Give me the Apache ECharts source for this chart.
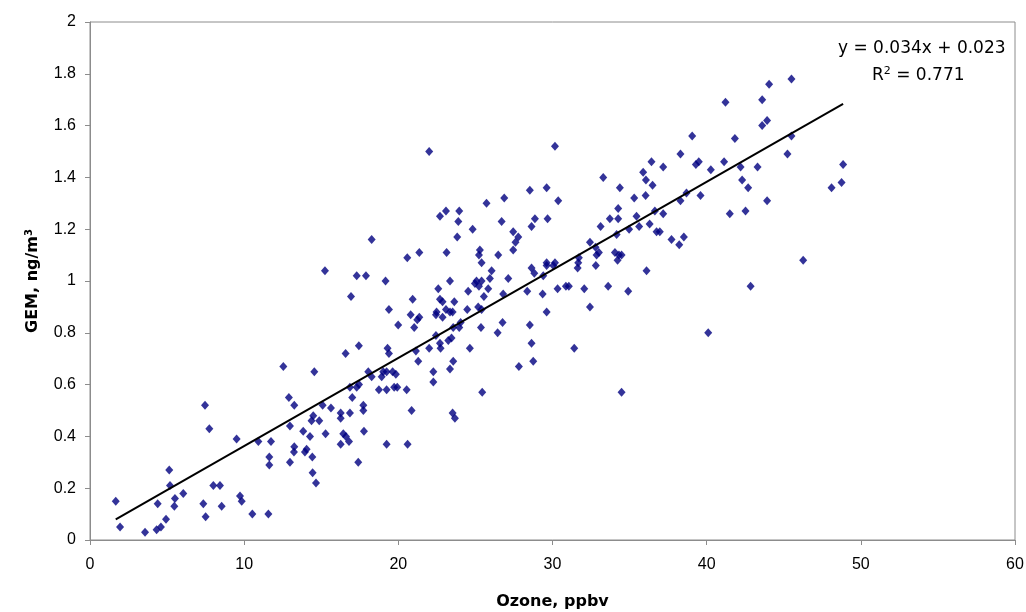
<!DOCTYPE html>
<html>
<head>
<meta charset="utf-8">
<script src="https://cdn.jsdelivr.net/npm/echarts@6/dist/echarts.min.js"></script>
<style>
  html, body { margin: 0; padding: 0; background: #fff; width: 100%; height: 100%; overflow: hidden; }
  #chart { width: 1026px; height: 612px; }
</style>
</head>
<body>
<div id="chart"></div>
<script>
// Ozone (ppbv) and GEM (ng/m3) paired observations
const ozone = [
  1.67, 1.95, 3.57, 4.32, 4.6, 4.93, 4.39, 5.14, 5.19, 5.51, 5.47, 6.05, 7.46, 7.74, 7.35, 7.5,
  8.0, 8.43, 8.54, 9.51, 9.73, 9.84, 10.53, 10.92, 11.74, 11.63, 11.63, 11.57, 12.9, 12.97, 12.97,
  13.25, 13.25, 13.23, 13.83, 14.27, 13.94, 14.05, 14.42, 14.44, 14.66, 14.48, 14.37, 14.87, 15.09,
  15.28, 15.63, 16.26, 16.26, 16.86, 16.43, 16.6, 16.8, 16.26, 17.4, 17.77, 17.01, 17.73, 17.73,
  16.86, 17.3, 17.45, 18.74, 19.24, 19.73, 19.93, 20.54, 20.86, 19.24, 20.6, 22.27, 23.52, 23.67,
  25.44, 34.48, 12.54, 18.27, 15.24, 17.3, 17.9, 19.17, 16.93, 19.39, 19.99, 20.58, 21.36, 23.13,
  23.82, 24.82, 20.93, 20.8, 21.36, 21.23, 21.03, 22.59, 23.35, 22.7, 22.87, 23.63, 24.53, 24.97,
  22.48, 22.44, 22.87, 23.09, 23.35, 23.52, 24.47, 23.56, 23.95, 24.04, 22.44, 23.45, 23.24, 22.7,
  22.74, 22.0, 21.14, 21.29, 23.56, 23.35, 24.64, 22.27, 19.3, 19.39, 17.44, 16.58, 14.55, 18.05,
  18.27, 19.02, 19.24, 19.63, 19.84, 18.92, 27.45, 27.78, 27.6, 27.45, 28.64, 25.29, 25.23, 26.48,
  25.4, 26.05, 25.07, 25.23, 25.4, 25.94, 25.83, 27.13, 25.55, 26.8, 25.18, 25.4, 25.36, 26.76,
  26.44, 28.53, 28.64, 28.75, 27.82, 28.64, 28.82, 29.62, 29.62, 30.16, 30.05, 29.4, 28.36, 29.36,
  30.33, 30.87, 31.06, 29.62, 31.41, 32.06, 32.43, 33.61, 34.91, 32.43, 32.79, 33.01, 32.86, 32.81,
  31.71, 31.67, 31.63, 34.16, 34.05, 34.31, 34.48, 34.22, 36.1, 33.12, 34.97, 35.62, 36.75, 36.96,
  37.72, 38.22, 38.52, 46.26, 42.85, 40.1, 22.0, 22.7, 23.09, 23.95, 23.89, 30.16, 25.72, 26.87,
  26.7, 28.53, 29.62, 30.37, 28.86, 29.68, 33.29, 34.37, 35.3, 36.04, 36.42, 35.88, 36.06, 36.49,
  34.26, 33.72, 34.26, 35.45, 36.64, 36.3, 45.5, 44.05, 41.22, 43.6, 43.92, 43.6, 39.06, 41.83,
  45.5, 38.3, 45.24, 37.18, 39.3, 39.49, 40.27, 41.13, 42.2, 43.3, 48.85, 42.3, 42.69, 48.75, 48.1,
  38.69, 38.3, 39.6, 43.92, 37.18, 41.5, 42.52
];
const gem = [
  0.15, 0.05, 0.03, 0.04, 0.05, 0.08, 0.14, 0.27, 0.21, 0.16, 0.13, 0.18, 0.52, 0.43, 0.14, 0.09,
  0.21, 0.21, 0.13, 0.39, 0.17, 0.15, 0.10, 0.38, 0.38, 0.32, 0.29, 0.10, 0.55, 0.44, 0.30,
  0.52, 0.36, 0.34, 0.42, 0.40, 0.34, 0.35, 0.32, 0.26, 0.22, 0.48, 0.46, 0.46, 0.52,
  0.41, 0.51, 0.49, 0.47, 0.49, 0.41, 0.40, 0.38, 0.37, 0.30, 0.42, 0.55, 0.52, 0.50,
  0.59, 0.59, 0.60, 0.58, 0.58, 0.59, 0.59, 0.58, 0.50, 0.37, 0.37, 0.61, 0.49, 0.47,
  0.57, 0.57, 0.67, 1.16, 1.04, 1.02, 1.02, 1.00, 0.94, 0.89, 0.83, 1.09, 1.11, 1.11,
  1.17, 1.20, 0.93, 0.87, 0.86, 0.85, 0.82, 0.97, 1.00, 0.93, 0.92, 0.92, 0.96, 0.99,
  0.88, 0.87, 0.86, 0.89, 0.88, 0.88, 0.89, 0.82, 0.82, 0.84, 0.79, 0.78, 0.77, 0.76,
  0.74, 0.74, 0.73, 0.69, 0.69, 0.66, 0.74, 0.65, 0.74, 0.72, 0.75, 0.72, 0.65, 0.65,
  0.63, 0.65, 0.65, 0.65, 0.64, 0.63, 1.19, 1.17, 1.15, 1.12, 1.21, 1.12, 1.10, 1.10,
  1.07, 1.04, 1.00, 0.98, 1.00, 1.01, 0.97, 1.01, 0.94, 0.95, 0.90, 0.89, 0.82, 0.84,
  0.80, 0.83, 0.76, 0.69, 0.67, 1.05, 1.03, 1.07, 1.06, 1.07, 1.06, 1.02, 0.96, 0.95,
  0.97, 0.98, 0.98, 0.88, 0.74, 0.97, 0.90, 0.98, 0.96, 1.15, 1.13, 1.11, 1.10, 1.06,
  1.09, 1.07, 1.05, 1.18, 1.11, 1.10, 1.10, 1.08, 1.04, 1.21, 1.20, 1.21, 1.19, 1.19,
  1.16, 1.14, 1.17, 1.08, 0.98, 0.80, 1.50, 1.25, 1.27, 1.27, 1.23, 1.52, 1.30, 1.32,
  1.23, 1.35, 1.36, 1.31, 1.24, 1.24, 1.40, 1.36, 1.32, 1.33, 1.46, 1.42, 1.39, 1.37,
  1.28, 1.24, 1.24, 1.25, 1.27, 1.22, 1.78, 1.76, 1.69, 1.70, 1.62, 1.60, 1.56, 1.55,
  1.56, 1.49, 1.49, 1.44, 1.45, 1.46, 1.43, 1.46, 1.44, 1.44, 1.45, 1.39, 1.36, 1.38, 1.36,
  1.34, 1.31, 1.33, 1.31, 1.26, 1.26, 1.27
];

// Linear fit shown in the annotation
const slope = 0.034;
const intercept = 0.023;
const r2 = 0.771;

const xTicks = { min: 0, max: 60, interval: 10 };
const yTicks = { min: 0, max: 2, interval: 0.2 };

const points = ozone.map((x, i) => [x, gem[i]]);
const xMin = Math.min(...ozone);
const xMax = Math.max(...ozone);
const fitLine = [xMin, xMax].map(x => [x, slope * x + intercept]);

const FONT = '"Liberation Sans", Arial, sans-serif';
const WIDE = '"DejaVu Sans", sans-serif';
const axisGray = '#8c8c8c';

const chart = echarts.init(document.getElementById('chart'), null, { renderer: 'canvas' });
chart.setOption({
  animation: false,
  backgroundColor: '#ffffff',
  grid: {
    left: 90, right: 11, top: 22, bottom: 72,
    containLabel: false,
    outerBoundsMode: 'none',
    show: true, borderColor: axisGray, borderWidth: 1, backgroundColor: 'transparent'
  },
  xAxis: {
    type: 'value',
    min: xTicks.min, max: xTicks.max, interval: xTicks.interval,
    name: 'Ozone, ppbv',
    nameLocation: 'middle',
    nameGap: 54,
    nameTextStyle: { fontFamily: WIDE, fontSize: 16, fontWeight: 'bold', color: '#000' },
    axisLine: { show: true, lineStyle: { color: axisGray, width: 1 } },
    axisTick: { show: true, inside: false, length: 5, lineStyle: { color: axisGray } },
    axisLabel: { fontFamily: FONT, fontSize: 16, color: '#000', margin: 17 },
    splitLine: { show: false }
  },
  yAxis: {
    type: 'value',
    min: yTicks.min, max: yTicks.max, interval: yTicks.interval,
    name: 'GEM, ng/m{sup|3}',
    nameLocation: 'middle',
    nameGap: 48,
    nameRotate: 90,
    nameTextStyle: {
      fontFamily: WIDE, fontSize: 16, fontWeight: 'bold', color: '#000',
      rich: { sup: { fontFamily: WIDE, fontSize: 10, fontWeight: 'bold', verticalAlign: 'top', padding: [0, 0, 8, 0] } }
    },
    axisLine: { show: true, lineStyle: { color: axisGray, width: 1 } },
    axisTick: { show: true, inside: false, length: 5, lineStyle: { color: axisGray } },
    axisLabel: { fontFamily: FONT, fontSize: 16, color: '#000', margin: 14 },
    splitLine: { show: false }
  },
  series: [
    {
      type: 'scatter',
      data: points,
      symbol: 'diamond',
      symbolSize: [8, 9],
      itemStyle: { color: '#000080' },
      z: 3
    },
    {
      type: 'line',
      data: fitLine,
      symbol: 'none',
      lineStyle: { color: '#000', width: 2 },
      z: 4
    }
  ],
  graphic: [
    {
      type: 'text',
      left: 838, top: 40,
      style: {
        text: 'y = ' + slope.toFixed(3) + 'x + ' + intercept.toFixed(3),
        font: '17px ' + WIDE, fill: '#000'
      }
    },
    {
      type: 'text',
      left: 872, top: 66,
      style: {
        text: 'R{sup|2} = ' + r2.toFixed(3),
        font: '17px ' + WIDE, fill: '#000',
        rich: { sup: { fontSize: 11, fontFamily: WIDE, padding: [0, 0, 9, 0] } }
      }
    }
  ]
});
</script>
</body>
</html>
